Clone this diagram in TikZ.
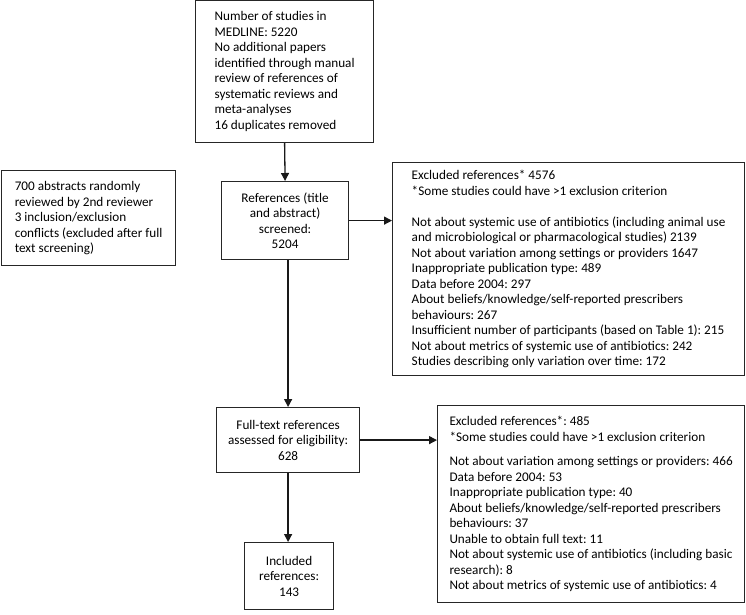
\documentclass[tikz,border=0pt]{standalone}
\usepackage{fontspec}
\setmainfont{Carlito}
\frenchspacing
\usetikzlibrary{arrows.meta}
\tikzset{
  box/.style = {draw=black!85, line width=1.2pt, anchor=north west, inner sep=0pt,
    font=\fontsize{13.2}{15.5}\selectfont},
  lbox/.style = {box, align=left},
  cbox/.style = {box, align=center},
  arr/.style = {-{Triangle[length=8pt,width=8pt]}, line width=1.3pt, draw=black!90}
}
\begin{document}
\begin{tikzpicture}[x = 1pt, y = -1pt]
	\useasboundingbox (0,0) rectangle (746,614);
	\node[lbox, minimum width=178pt, minimum height=142pt] (search) at (195,0) {Number of studies in\\ MEDLINE: 5220\\ No additional papers\\ identified through manual\\ review of references of\\ systematic reviews and\\ meta-analyses\\ 16 duplicates removed};
	\node[lbox, minimum width=174pt, minimum height=95pt] (check) at (1,170) {700 abstracts randomly\\ reviewed by 2nd reviewer\\ 3 inclusion/exclusion\\ conflicts (excluded after full\\ text screening)};
	\node[cbox, minimum width=127pt, minimum height=78pt] (screened) at (221,181) {References (title\\ and abstract)\\ screened:\\ 5204};
	\node[lbox, minimum width=352pt, minimum height=213pt] (exclA) at (392,162) {Excluded references* 4576\\ {*}Some studies could have >1 exclusion criterion\\[15.5pt] Not about systemic use of antibiotics (including animal use\\ and microbiological or pharmacological studies) 2139\\ Not about variation among settings or providers 1647\\ Inappropriate publication type: 489\\ Data before 2004: 297\\ About beliefs/knowledge/self-reported prescribers\\ behaviours: 267\\ Insufficient number of participants (based on Table 1): 215\\ Not about metrics of systemic use of antibiotics: 242\\ Studies describing only variation over time: 172};
	\node[cbox, minimum width=143pt, minimum height=65pt] (fulltext) at (216,407) {Full-text references\\ assessed for eligibility:\\ 628};
	\node[lbox, minimum width=307pt, minimum height=197pt] (exclB) at (437,405) {Excluded references*: 485\\ {*}Some studies could have >1 exclusion criterion\\[9pt] Not about variation among settings or providers: 466\\ Data before 2004: 53\\ Inappropriate publication type: 40\\ About beliefs/knowledge/self-reported prescribers\\ behaviours: 37\\ Unable to obtain full text: 11\\ Not about systemic use of antibiotics (including basic\\ research): 8\\ Not about metrics of systemic use of antibiotics: 4};
	\node[cbox, minimum width=89pt, minimum height=67pt] (included) at (244,542) {Included\\ references:\\ 143};
	\draw[arr] (search.south) -- (screened.north);
	\draw[arr] (screened.east) -- (screened.east -| exclA.west);
	\draw[arr] (screened.south -| fulltext.north) -- (fulltext.north);
	\draw[arr] (fulltext.east) -- (fulltext.east -| exclB.west);
	\draw[arr] (fulltext.south) -- (fulltext.south |- included.north);
\end{tikzpicture}
\end{document}
